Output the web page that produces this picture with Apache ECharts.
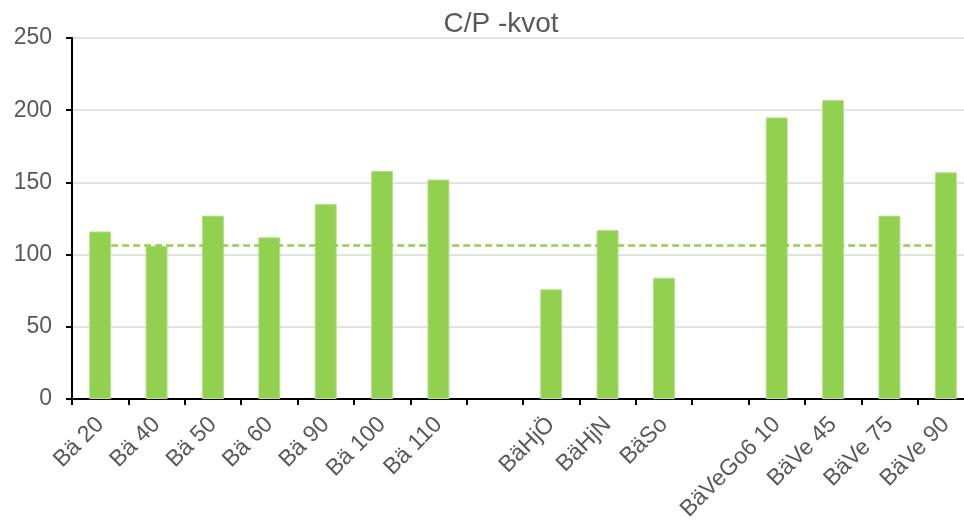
<!DOCTYPE html>
<html>
<head>
<meta charset="utf-8">
<script src="https://cdn.jsdelivr.net/npm/echarts@6/dist/echarts.min.js"></script>
<style>
  html, body { margin: 0; padding: 0; background: #fff; }
  #chart { width: 964px; height: 525px; }
</style>
</head>
<body>
<div id="chart"></div>
<script>
// categories, empty slots keep the gaps between the groups
const categories = ['Bä 20', 'Bä 40', 'Bä 50', 'Bä 60', 'Bä 90', 'Bä 100', 'Bä 110', '',
  'BäHjÖ', 'BäHjN', 'BäSo', ' ',
  'BäVeGo6 10', 'BäVe 45', 'BäVe 75', 'BäVe 90']
const cpValues = [116, 106, 127, 112, 135, 158, 152, null, 76, 117, 84, null, 195, 207, 127, 157]
const meanValue = 106.5
const yTicks = { min: 0, max: 250, interval: 50 }

const green = '#92D050'
const textColor = '#595959'
const font = '"Liberation Sans", Arial, sans-serif'

const chart = echarts.init(document.getElementById('chart'))
chart.setOption({
  animation: false,
  title: {
    text: 'C/P -kvot',
    left: 496,
    textAlign: 'center',
    top: 5,
    textStyle: { color: textColor, fontSize: 28, fontWeight: 'normal', fontFamily: font }
  },
  // the plot runs a little past the right edge, as in the original
  grid: { left: 72, top: 38, width: 902, height: 361, outerBoundsMode: 'none' },
  xAxis: {
    type: 'category',
    data: categories,
    axisLine: { lineStyle: { color: '#000', width: 2 } },
    axisTick: { show: true, length: 6, lineStyle: { color: '#000', width: 2 } },
    axisLabel: {
      interval: 0,
      rotate: 45,
      margin: 22,
      color: textColor,
      fontSize: 23,
      fontFamily: font
    }
  },
  yAxis: {
    type: 'value',
    min: yTicks.min,
    max: yTicks.max,
    interval: yTicks.interval,
    axisLine: { show: true, lineStyle: { color: '#000', width: 2 } },
    axisTick: { show: true, length: 6, lineStyle: { color: '#000', width: 2 } },
    axisLabel: { color: textColor, fontSize: 23, margin: 20, fontFamily: font },
    splitLine: { lineStyle: { color: '#d9d9d9', width: 1.5 } }
  },
  series: [
    {
      type: 'line',
      data: [],
      z: 1,
      markLine: {
        silent: true,
        symbol: 'none',
        label: { show: false },
        lineStyle: { color: green, type: [7, 4], width: 2.5 },
        data: [[
          { coord: [categories[0], meanValue] },
          { coord: [categories[categories.length - 1], meanValue] }
        ]]
      }
    },
    {
      type: 'bar',
      data: cpValues,
      barWidth: 22,
      z: 3,
      itemStyle: { color: green, borderColor: '#b7e08f', borderWidth: 1 }
    }
  ]
})
</script>
</body>
</html>
